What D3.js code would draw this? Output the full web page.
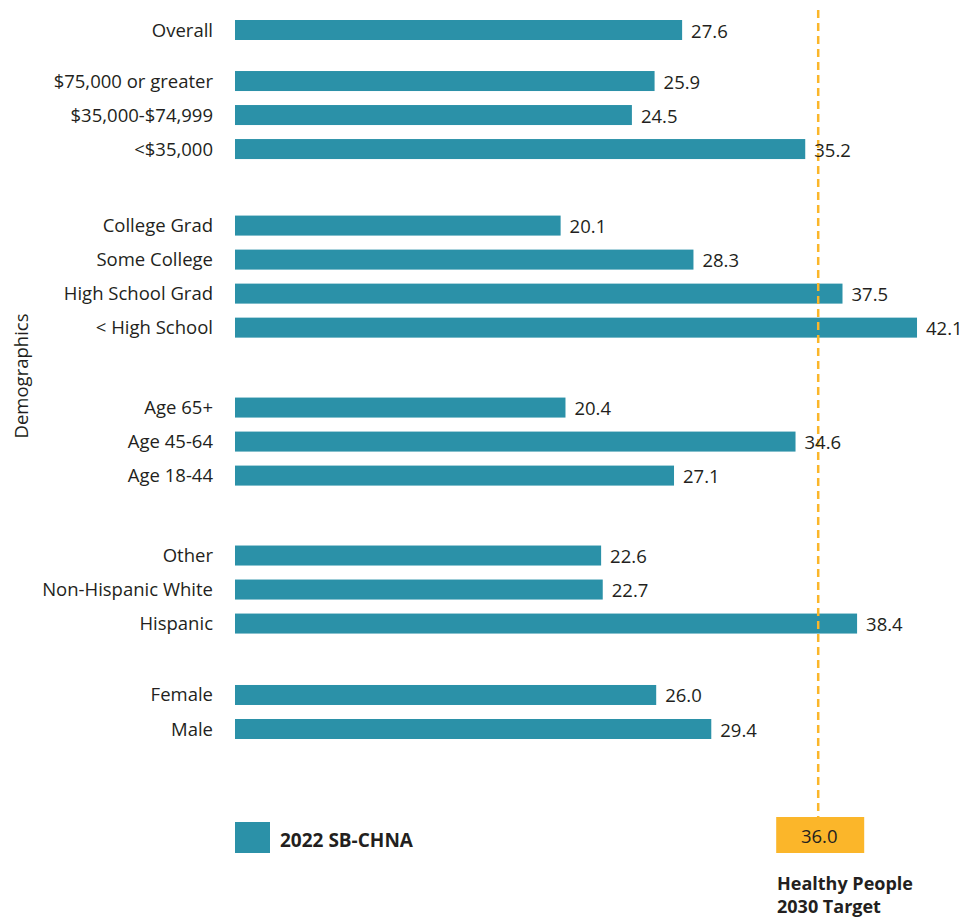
<!DOCTYPE html>
<html>
<head>
<meta charset="utf-8">
<script src="https://cdn.jsdelivr.net/npm/d3@7"></script>
<style>
  body { margin: 0; background: #fff; }
  svg { display: block; font-family: "Open Sans", sans-serif; }
</style>
</head>
<body>
<svg id="chart" width="963" height="918"></svg>
<script>
// rows, top to bottom
var categories = [
  'Overall',
  '$75,000 or greater', '$35,000-$74,999', '<$35,000',
  'College Grad', 'Some College', 'High School Grad', '< High School',
  'Age 65+', 'Age 45-64', 'Age 18-44',
  'Other', 'Non-Hispanic White', 'Hispanic',
  'Female', 'Male'
];
var groups = [0, 1, 1, 1, 2, 2, 2, 2, 3, 3, 3, 4, 4, 4, 5, 5];
var values = [27.6, 25.9, 24.5, 35.2, 20.1, 28.3, 37.5, 42.1, 20.4, 34.6, 27.1, 22.6, 22.7, 38.4, 26.0, 29.4];
var target = 36.0;
var seriesName = '2022 SB-CHNA';
var targetLabel = ['Healthy People', '2030 Target'];
var axisTitle = 'Demographics';

var teal = '#2b91a8';
var gold = '#fbb62a';
var ink = '#231f20';

// extra space (in rows) before each new group
var groupGap = [0, 1.5, 2.25, 2.35, 2.35, 2.1];

var svg = d3.select('#chart');

// slot index for each row
var slots = [];
var s = 0;
categories.forEach(function(c, i) {
  if (i > 0) s += groups[i] !== groups[i - 1] ? groupGap[groups[i]] : 1;
  slots.push(s);
});

var x = d3.scaleLinear().domain([0, 45]).range([235, 235 + 45 * 16.2]);
var y = d3.scaleLinear().domain([0, d3.max(slots)]).range([30, 729]);
var barH = 20;

// category labels
svg.append('g').selectAll('text')
  .data(categories)
  .join('text')
  .attr('x', 213)
  .attr('y', function(d, i) { return y(slots[i]) + 6.5; })
  .attr('text-anchor', 'end')
  .attr('font-size', 18.5)
  .attr('fill', ink)
  .text(function(d) { return d; });

// bars
svg.append('g').selectAll('rect')
  .data(values)
  .join('rect')
  .attr('x', x(0))
  .attr('y', function(d, i) { return y(slots[i]) - barH / 2; })
  .attr('width', function(d) { return x(d) - x(0); })
  .attr('height', barH)
  .attr('fill', teal);

// target line
svg.append('line')
  .attr('x1', x(target)).attr('x2', x(target))
  .attr('y1', 10).attr('y2', 817)
  .attr('stroke', gold)
  .attr('stroke-width', 2.5)
  .attr('stroke-dasharray', '8 5');

// value labels
svg.append('g').selectAll('text')
  .data(values)
  .join('text')
  .attr('x', function(d) { return x(d) + 9; })
  .attr('y', function(d, i) { return y(slots[i]) + 7.5; })
  .attr('font-size', 18.5)
  .attr('fill', ink)
  .text(function(d) { return d.toFixed(1); });

// axis title
svg.append('text')
  .attr('transform', 'translate(28,376) rotate(-90)')
  .attr('text-anchor', 'middle')
  .attr('font-size', 18.5)
  .attr('fill', ink)
  .text(axisTitle);

// legend
svg.append('rect')
  .attr('x', 235).attr('y', 822)
  .attr('width', 35).attr('height', 31)
  .attr('fill', teal);
svg.append('text')
  .attr('x', 280).attr('y', 847)
  .attr('font-size', 19)
  .attr('font-weight', 'bold')
  .attr('fill', ink)
  .text(seriesName);

// target box
svg.append('rect')
  .attr('x', x(target) - 42).attr('y', 817)
  .attr('width', 88).attr('height', 36)
  .attr('fill', gold);
svg.append('text')
  .attr('x', x(target) + 1).attr('y', 843)
  .attr('text-anchor', 'middle')
  .attr('font-size', 18.5)
  .attr('fill', ink)
  .text(target.toFixed(1));

svg.append('g').selectAll('text')
  .data(targetLabel)
  .join('text')
  .attr('x', 777)
  .attr('y', function(d, i) { return 890 + i * 23; })
  .attr('font-size', 18)
  .attr('font-weight', 'bold')
  .attr('fill', ink)
  .text(function(d) { return d; });
</script>
</body>
</html>
